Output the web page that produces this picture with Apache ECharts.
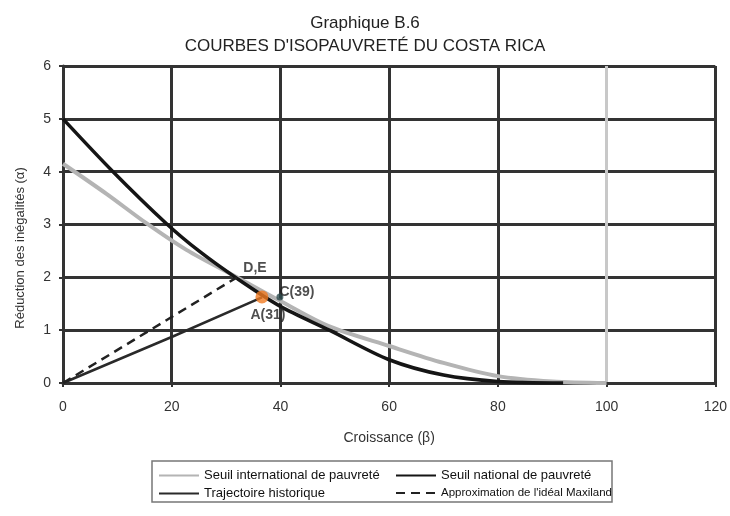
<!DOCTYPE html>
<html>
<head>
<meta charset="utf-8">
<script src="https://cdn.jsdelivr.net/npm/echarts@6/dist/echarts.min.js"></script>
<style>
  html, body { margin: 0; padding: 0; background: #fff; }
  #chart { width: 730px; height: 516px; }
</style>
</head>
<body>
<div id="chart"></div>
<script>
  var xTicks = [0, 20, 40, 60, 80, 100, 120];
  var yTicks = [0, 1, 2, 3, 4, 5, 6];

  // Seuil international de pauvreté (grey curve)
  var seuilInternational = [
    [0, 4.15], [8, 3.58], [15.4, 3.02], [22.7, 2.52], [32, 2.0], [40, 1.55],
    [49, 1.07], [60, 0.7], [70, 0.38], [80, 0.13], [90, 0.03], [100, 0]
  ];
  // Seuil national de pauvreté (black curve)
  var seuilNational = [
    [0, 5.0], [9.2, 4.0], [19, 3.02], [25, 2.5], [32, 1.98], [40, 1.45],
    [49, 1.0], [60, 0.44], [70, 0.15], [80, 0.03], [92, 0]
  ];
  var trajectoire = [[0, 0], [20.2, 0.88], [36.6, 1.62]];
  var approximation = [[0, 0], [32, 2.0]];

  var pointNames = ["D,E", "C(39)", "A(31)"];
  var pointValues = [[32, 2.0], [39.9, 1.63], [36.6, 1.63]];

  var chart = echarts.init(document.getElementById("chart"));
  var font = "Liberation Sans, Arial, sans-serif";
  var gridColor = "#333";

  var pointStyles = [
    { size: 1, color: "transparent", offset: [18, -9] },
    { size: 7, color: "#2c4a4c", offset: [17, -5] },
    { size: 13, color: "#f07a22", offset: [6, 18] }
  ];

  var legendBase = {
    top: 464, orient: "vertical", itemGap: 5,
    itemWidth: 40, itemHeight: 10,
    itemStyle: { opacity: 0 },
    textStyle: { fontFamily: font, fontSize: 13, color: "#111" }
  };

  chart.setOption({
    animation: false,
    backgroundColor: "#fff",
    title: {
      text: "Graphique B.6\nCOURBES D'ISOPAUVRETÉ DU COSTA RICA",
      left: "center",
      top: 7,
      textStyle: { fontFamily: font, fontSize: 17, fontWeight: "normal", color: "#222", lineHeight: 23 }
    },
    legend: [
      Object.assign({}, legendBase, {
        left: 153,
        data: ["Seuil international de pauvreté", "Trajectoire historique"]
      }),
      Object.assign({}, legendBase, {
        left: 390,
        data: [
          "Seuil national de pauvreté",
          { name: "Approximation de l'idéal Maxiland", textStyle: { fontFamily: font, fontSize: 11.5, color: "#111" } }
        ]
      })
    ],
    graphic: [
      {
        type: "rect",
        shape: { x: 152, y: 461, width: 460, height: 41 },
        style: { fill: "none", stroke: "#777", lineWidth: 1.5 },
        silent: true
      },
      {
        type: "text",
        x: 20, y: 248,
        rotation: Math.PI / 2,
        style: {
          text: "Réduction des inégalités (α)",
          fontFamily: font, fontSize: 13, fill: "#333",
          align: "center", verticalAlign: "middle"
        },
        silent: true
      }
    ],
    grid: { left: 63, right: 14, top: 66, bottom: 133 },
    xAxis: {
      type: "value",
      min: 0, max: 120, interval: 20,
      name: "Croissance (β)",
      nameLocation: "middle",
      nameGap: 48,
      nameTextStyle: { fontFamily: font, fontSize: 14, color: "#333" },
      axisLine: { show: true, lineStyle: { color: gridColor, width: 3 } },
      axisTick: { show: true, length: 4, lineStyle: { color: gridColor, width: 2 } },
      axisLabel: {
        fontFamily: font, fontSize: 14, color: "#333", margin: 17,
        formatter: function (v) { return xTicks.indexOf(v) >= 0 ? String(v) : ""; }
      },
      splitLine: {
        show: true,
        lineStyle: { color: [gridColor, gridColor, gridColor, gridColor, gridColor, "#c8c8c8", gridColor], width: 3 }
      }
    },
    yAxis: {
      type: "value",
      min: 0, max: 6, interval: 1,
      axisLine: { show: true, lineStyle: { color: gridColor, width: 3 } },
      axisTick: { show: true, length: 4, lineStyle: { color: gridColor, width: 2 } },
      axisLabel: {
        fontFamily: font, fontSize: 14, color: "#333", margin: 12,
        formatter: function (v) { return yTicks.indexOf(v) >= 0 ? String(v) : ""; }
      },
      splitLine: { show: true, lineStyle: { color: gridColor, width: 3 } }
    },
    series: [
      {
        name: "Seuil international de pauvreté",
        type: "line", smooth: 0.3, symbol: "none",
        lineStyle: { color: "#b4b4b4", width: 4 },
        itemStyle: { color: "#b4b4b4" },
        data: seuilInternational, z: 3
      },
      {
        name: "Seuil national de pauvreté",
        type: "line", smooth: 0.3, symbol: "none",
        lineStyle: { color: "#151515", width: 3.5 },
        itemStyle: { color: "#151515" },
        data: seuilNational, z: 4
      },
      {
        name: "Trajectoire historique",
        type: "line", symbol: "none",
        lineStyle: { color: "#2a2a2a", width: 2.5 },
        itemStyle: { color: "#2a2a2a" },
        data: trajectoire, z: 5
      },
      {
        name: "Approximation de l'idéal Maxiland",
        type: "line", symbol: "none",
        lineStyle: { color: "#222", width: 2.5, type: [9, 6] },
        itemStyle: { color: "#222" },
        data: approximation, z: 5
      },
      {
        name: "points",
        type: "scatter",
        z: 6,
        data: pointValues.map(function (v, i) {
          var s = pointStyles[i];
          return {
            value: v,
            name: pointNames[i],
            symbolSize: s.size,
            itemStyle: { color: s.color },
            label: {
              show: true, position: "inside", offset: s.offset,
              formatter: pointNames[i],
              fontFamily: font, fontSize: 14, fontWeight: "bold", color: "#222"
            }
          };
        })
      }
    ]
  });
</script>
</body>
</html>
